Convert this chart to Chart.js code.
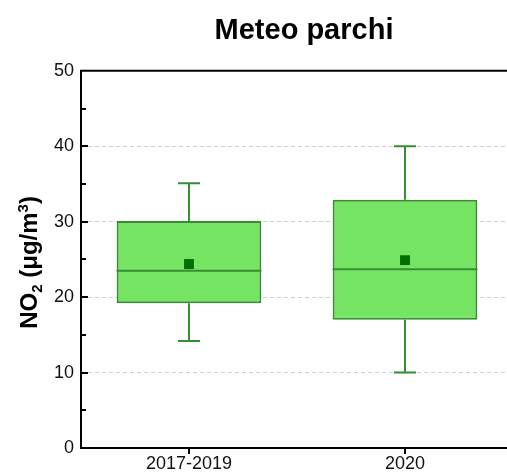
<!DOCTYPE html>
<html>
<head>
<meta charset="utf-8">
<script src="https://cdn.jsdelivr.net/npm/chart.js@4"></script>
<style>
html,body{margin:0;padding:0;background:#fff;overflow:hidden;width:507px;height:475px;}
#wrap{position:absolute;left:0;top:0;width:608px;height:475px;}
</style>
</head>
<body>
<div id="wrap"><canvas id="c" width="608" height="475"></canvas></div>
<script>
const categories = ['2017-2019', '2020'];
const whiskerLow = [14.2, 10.0];
const q1 = [19.2, 17.0];
const median = [23.5, 23.7];
const q3 = [30.1, 32.9];
const whiskerHigh = [35.1, 40.0];
const mean = [24.4, 24.9];
const yMin = 0, yMax = 50, yStep = 10, yMinorStep = 5;
const yTitleParts = [
  {t: 'NO', k: 'n'}, {t: '2', k: 'sub'}, {t: ' (\u03BCg/m', k: 'n'}, {t: '3', k: 'sup'}, {t: ')', k: 'n'}
];

const FONT = 'Liberation Sans, Arial, sans-serif';
const boxFill = '#74E462';
const boxLine = '#368E30';
const meanColor = '#007000';

const boxPlugin = {
  id: 'boxParts',
  afterDatasetsDraw(chart) {
    const ctx = chart.ctx, x = chart.scales.x, y = chart.scales.y;
    ctx.save();
    ctx.strokeStyle = boxLine;
    ctx.lineWidth = 2;
    const meta = chart.getDatasetMeta(0);
    categories.forEach((c, i) => {
      const cx = x.getPixelForValue(i);
      const bar = meta.data[i];
      const half = bar.width / 2;
      const cap = 11;
      ctx.beginPath();
      ctx.moveTo(cx - half, y.getPixelForValue(median[i]));
      ctx.lineTo(cx + half, y.getPixelForValue(median[i]));
      ctx.moveTo(cx, y.getPixelForValue(q3[i]));
      ctx.lineTo(cx, y.getPixelForValue(whiskerHigh[i]));
      ctx.moveTo(cx - cap, y.getPixelForValue(whiskerHigh[i]));
      ctx.lineTo(cx + cap, y.getPixelForValue(whiskerHigh[i]));
      ctx.moveTo(cx, y.getPixelForValue(q1[i]));
      ctx.lineTo(cx, y.getPixelForValue(whiskerLow[i]));
      ctx.moveTo(cx - cap, y.getPixelForValue(whiskerLow[i]));
      ctx.lineTo(cx + cap, y.getPixelForValue(whiskerLow[i]));
      ctx.stroke();
    });
    ctx.restore();
  },
  afterDraw(chart) {
    const ctx = chart.ctx, x = chart.scales.x, y = chart.scales.y;
    const a = chart.chartArea;
    ctx.save();
    ctx.strokeStyle = '#000';
    ctx.lineWidth = 2;
    ctx.beginPath();
    ctx.moveTo(a.right + 2, a.top);
    ctx.lineTo(a.left, a.top);
    ctx.lineTo(a.left, a.bottom);
    ctx.lineTo(a.right + 2, a.bottom);
    ctx.stroke();
    ctx.beginPath();
    for (let v = yMin + yMinorStep; v < yMax; v += yMinorStep) {
      const py = Math.round(y.getPixelForValue(v));
      const len = (v % yStep === 0) ? 7 : 5;
      ctx.moveTo(a.left, py);
      ctx.lineTo(a.left + len, py);
    }
    categories.forEach((c, i) => {
      const px = Math.round(x.getPixelForValue(i));
      ctx.moveTo(px, a.bottom);
      ctx.lineTo(px, a.bottom + 6);
    });
    ctx.stroke();

    const size = 24, small = 15;
    const fontN = 'bold ' + size + 'px ' + FONT;
    const fontS = 'bold ' + small + 'px ' + FONT;
    let total = 0;
    yTitleParts.forEach(p => { ctx.font = p.k === 'n' ? fontN : fontS; total += ctx.measureText(p.t).width; });
    const cy = (a.top + a.bottom) / 2 + 3;
    ctx.translate(37, cy);
    ctx.rotate(-Math.PI / 2);
    ctx.fillStyle = '#000';
    ctx.textBaseline = 'alphabetic';
    ctx.textAlign = 'left';
    let pos = -total / 2;
    yTitleParts.forEach(p => {
      ctx.font = p.k === 'n' ? fontN : fontS;
      const dy = p.k === 'sub' ? 5 : (p.k === 'sup' ? -9 : 0);
      ctx.fillText(p.t, pos, dy);
      pos += ctx.measureText(p.t).width;
    });
    ctx.restore();
  }
};

new Chart(document.getElementById('c'), {
  data: {
    labels: categories,
    datasets: [
      {
        type: 'bar',
        data: categories.map((c, i) => [q1[i], q3[i]]),
        backgroundColor: boxFill,
        borderColor: boxLine,
        borderWidth: 2,
        borderSkipped: false,
        barPercentage: 0.67,
        categoryPercentage: 1.0,
        order: 2
      },
      {
        type: 'scatter',
        data: categories.map((c, i) => ({x: i, y: mean[i]})),
        pointStyle: 'rect',
        pointRadius: 7,
        pointBackgroundColor: meanColor,
        pointBorderColor: meanColor,
        pointBorderWidth: 0,
        order: 1
      }
    ]
  },
  options: {
    responsive: false,
    animation: false,
    layout: {padding: 0},
    plugins: {
      legend: {display: false},
      tooltip: {enabled: false},
      title: {
        display: true,
        text: 'Meteo parchi',
        color: '#000',
        font: {family: FONT, size: 29, weight: 'bold'},
        padding: {top: 14, bottom: 22}
      }
    },
    scales: {
      x: {
        type: 'category',
        offset: true,
        grid: {display: false, drawTicks: false},
        border: {display: false},
        ticks: {color: '#111', padding: 5, font: {family: FONT, size: 18}},
        afterFit(s) { s.height = 27; }
      },
      y: {
        min: yMin, max: yMax,
        grid: {
          drawTicks: false,
          color: (ctx) => (ctx.tick && (ctx.tick.value === yMin || ctx.tick.value === yMax)) ? 'rgba(0,0,0,0)' : '#cfcfcf',
          lineWidth: 1
        },
        border: {display: false, dash: [4, 3]},
        ticks: {stepSize: yStep, color: '#111', padding: 7, font: {family: FONT, size: 18}},
        afterFit(s) { s.width = 81; }
      },
      yRight: {
        type: 'linear',
        position: 'right',
        display: true,
        grid: {display: false, drawTicks: false},
        border: {display: false},
        ticks: {display: false},
        afterFit(s) { s.width = 95; }
      }
    }
  },
  plugins: [boxPlugin]
});
</script>
</body>
</html>
